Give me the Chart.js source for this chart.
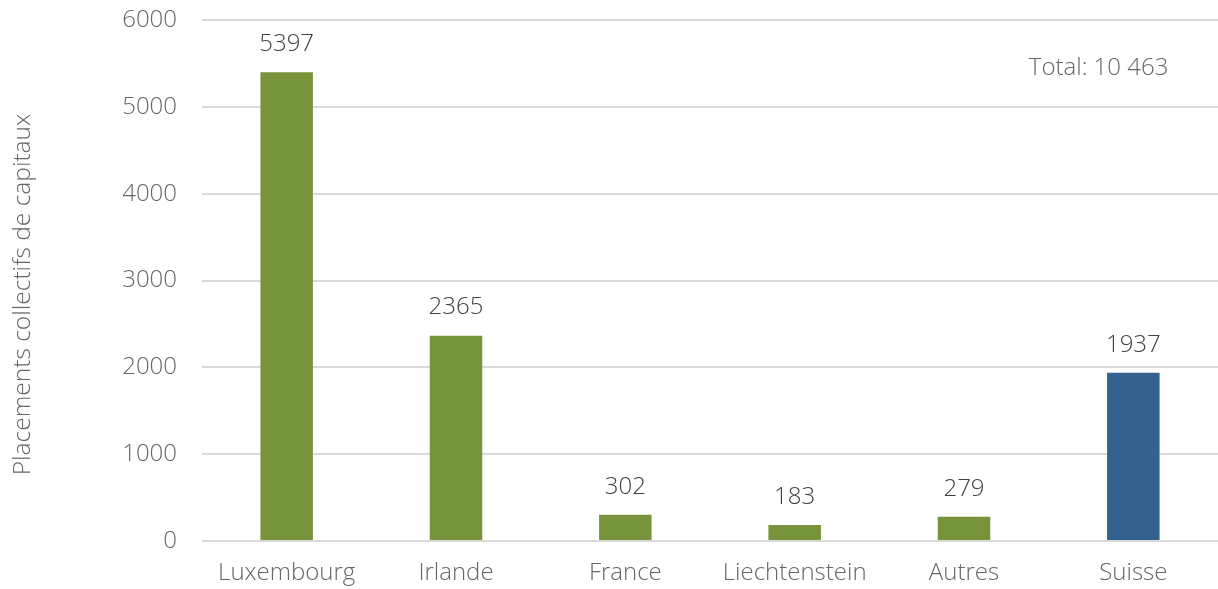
<!DOCTYPE html>
<html>
<head>
<meta charset="utf-8">
<script src="https://cdn.jsdelivr.net/npm/chart.js@4/dist/chart.umd.min.js"></script>
<style>
html,body{margin:0;padding:0;background:#fff;}
#wrap{width:1218px;height:589px;position:relative;}
</style>
</head>
<body>
<div id="wrap"><canvas id="c" width="1218" height="589"></canvas></div>
<script>
const categories = ["Luxembourg","Irlande","France","Liechtenstein","Autres","Suisse"];
const values = [5397, 2365, 302, 183, 279, 1937];
const barColors = ["#77933C","#77933C","#77933C","#77933C","#77933C","#35618F"];
const yTicks = [0,1000,2000,3000,4000,5000,6000];
const yTitle = "Placements collectifs de capitaux";
const totalLabel = "Total: 10 463";

const FONT = "'Open Sans', 'DejaVu Sans', sans-serif";

const labelPlugin = {
  id: 'labels',
  afterDatasetsDraw(chart) {
    const ctx = chart.ctx;
    const meta = chart.getDatasetMeta(0);
    ctx.save();
    ctx.font = "300 24px " + FONT;
    ctx.fillStyle = "#404040";
    ctx.textAlign = "center";
    ctx.textBaseline = "middle";
    meta.data.forEach((bar, i) => {
      ctx.fillText(String(values[i]), bar.x, bar.y - 28);
    });
    const ys = chart.scales.y;
    ctx.font = "300 24px " + FONT;
    ctx.fillStyle = "#666666";
    ctx.textAlign = "right";
    ctx.fillText(totalLabel, chart.scales.x.getPixelForValue(5) + 35, ys.getPixelForValue(5450));
    // y axis title, centred on the full chart height
    ctx.translate(23, chart.height / 2);
    ctx.rotate(-Math.PI / 2);
    ctx.textAlign = "center";
    ctx.font = "300 24.5px " + FONT;
    ctx.fillText(yTitle, 0, 0);
    ctx.restore();
  }
};

new Chart(document.getElementById('c'), {
  type: 'bar',
  data: {
    labels: categories,
    datasets: [{
      data: values,
      backgroundColor: barColors,
      borderWidth: 0,
      categoryPercentage: 1,
      barPercentage: 0.31
    }]
  },
  options: {
    responsive: false,
    animation: false,
    layout: { padding: { left: 0, right: 0, top: 0, bottom: 0 } },
    plugins: { legend: { display: false }, tooltip: { enabled: false } },
    scales: {
      x: {
        afterFit(scale) { scale.height = 48; },
        grid: { display: false, drawTicks: false },
        border: { display: false },
        ticks: { color: "#666666", font: { family: FONT, size: 24, weight: 300 }, padding: 18, maxRotation: 0 }
      },
      y: {
        min: 0, max: 6000,
        afterBuildTicks(scale) { scale.ticks = yTicks.map(v => ({ value: v })); },
        afterFit(scale) { scale.width = 202; scale.paddingTop = 20; scale.paddingBottom = 0; },
        grid: { color: "#D9D9D9", lineWidth: 2, drawTicks: false },
        border: { display: false },
        ticks: { color: "#666666", font: { family: FONT, size: 24, weight: 300 }, padding: 25,
                 callback: (v) => String(v) },
        title: { display: false }
      }
    }
  },
  plugins: [labelPlugin]
});
</script>
</body>
</html>
